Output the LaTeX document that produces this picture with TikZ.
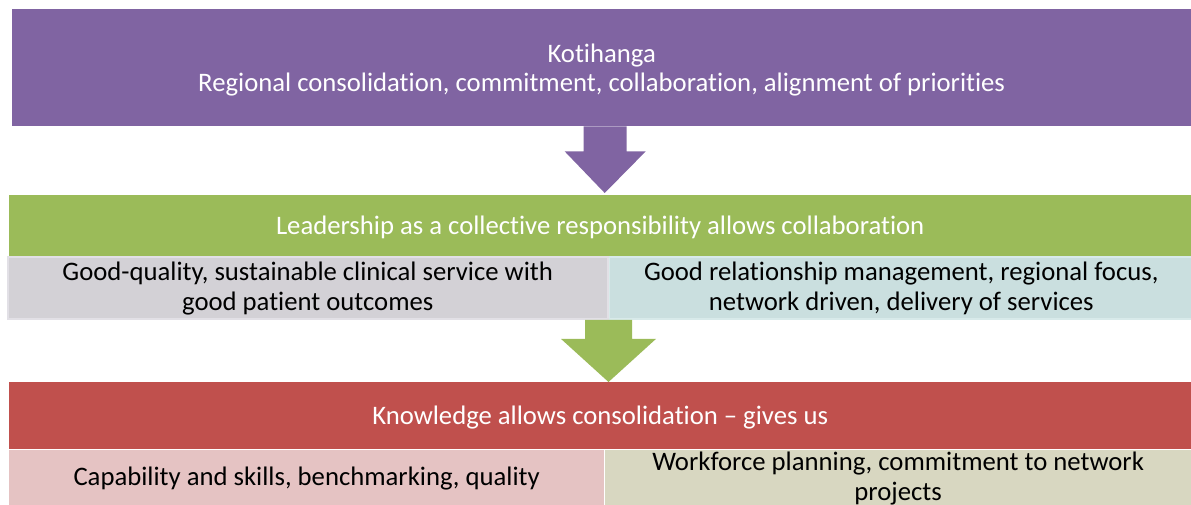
\documentclass[tikz,border=0pt]{standalone}
\usepackage{fontspec}
\setmainfont{Carlito}[Ligatures={NoCommon,NoContextual}, RawFeature={-liga;-clig;-calt}]
\usetikzlibrary{positioning}

\definecolor{kpurple}{HTML}{8064A2}
\definecolor{kgreen}{HTML}{9BBB59}
\definecolor{kred}{HTML}{C0504D}
\definecolor{kgrey}{HTML}{D3D1D6}
\definecolor{kgreyline}{HTML}{E2E0E6}
\definecolor{kteal}{HTML}{CADFDF}
\definecolor{ktealline}{HTML}{D8EAEA}
\definecolor{kpink}{HTML}{E5C3C3}
\definecolor{kkhaki}{HTML}{D8D7C1}

\tikzset{
  bar/.style={anchor=north west, inner sep=0pt, text=white, align=center, text depth=0pt,
    font=\fontsize{26.7}{29}\selectfont},
  cell/.style={anchor=north west, inner sep=0pt, text=black, align=center,
    font=\fontsize{26.7}{30}\selectfont},
}

\begin{document}
\begin{tikzpicture}[x=1pt, y=-1pt]
  \useasboundingbox (0,0) rectangle (1191,505);

  \node[bar, fill=kpurple, minimum width=1179pt, minimum height=117pt] (kotihanga) at (12,9)
    {Kotihanga\\Regional consolidation, commitment, collaboration, alignment of priorities};

  \node[bar, fill=kgreen, minimum width=1182pt, minimum height=61pt] (leadership) at (9,195)
    {Leadership as a collective responsibility allows collaboration};
  \node[cell, fill=kgrey, draw=kgreyline, line width=1.5pt, minimum width=600pt, minimum height=62pt,
    below right=0pt and -2pt of leadership.south west, anchor=north west] (quality)
    {Good-quality, sustainable clinical service with\\good patient outcomes};
  \node[cell, fill=kteal, draw=ktealline, line width=1.5pt, minimum width=584pt, minimum height=62pt,
    right=0pt of quality.north east, anchor=north west] (relation)
    {Good relationship management, regional focus,\\network driven, delivery of services};

  \node[bar, fill=kred, minimum width=1182pt, minimum height=67pt] (knowledge) at (9,382)
    {Knowledge allows consolidation -- gives us};
  \node[cell, fill=kpink, minimum width=595pt, minimum height=58pt,
    below=0pt of knowledge.south west, anchor=north west] (capability)
    {Capability and skills, benchmarking, quality};
  \node[cell, fill=kkhaki, minimum width=587pt, minimum height=58pt,
    right=0pt of capability.north east, anchor=north west] (workforce)
    {Workforce planning, commitment to network\\projects};

  % block arrows between the tiers
  \fill[kpurple] ([xshift=-18pt]kotihanga.south) -- ([xshift=-18pt, yshift=-25pt]kotihanga.south)
    -- ([xshift=-37pt, yshift=-25pt]kotihanga.south) -- ([xshift=3pt, yshift=2pt]leadership.north -| kotihanga.south)
    -- ([xshift=44pt, yshift=-25pt]kotihanga.south) -- ([xshift=25pt, yshift=-25pt]kotihanga.south)
    -- ([xshift=25pt]kotihanga.south) -- cycle;
  \fill[kgreen] ([xshift=-23.5pt]relation.south west) -- ([xshift=-23.5pt, yshift=-19pt]relation.south west)
    -- ([xshift=-47.5pt, yshift=-19pt]relation.south west) -- (knowledge.north -| relation.south west)
    -- ([xshift=47.5pt, yshift=-19pt]relation.south west) -- ([xshift=23.5pt, yshift=-19pt]relation.south west)
    -- ([xshift=23.5pt]relation.south west) -- cycle;
\end{tikzpicture}
\end{document}
